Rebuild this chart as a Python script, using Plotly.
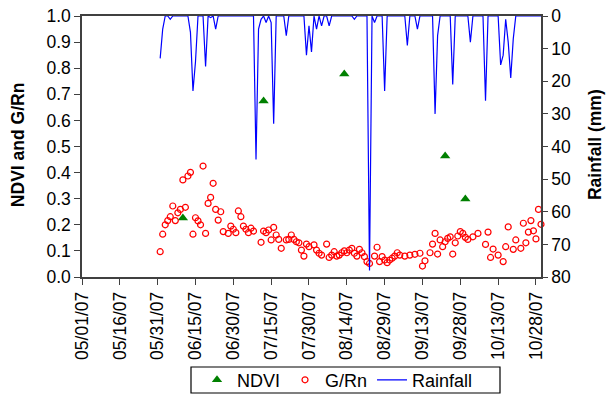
import pandas as pd
import plotly.graph_objects as go

# NDVI composites
ndvi_dates = ["2007-06-10", "2007-07-12", "2007-08-13", "2007-09-22", "2007-09-30"]
ndvi_values = [0.226, 0.674, 0.778, 0.464, 0.299]

# Daily soil heat flux / net radiation ratio
grn_dates = [
    "2007-06-01", "2007-06-02", "2007-06-03", "2007-06-04", "2007-06-05", "2007-06-06",
    "2007-06-07", "2007-06-08", "2007-06-09", "2007-06-10", "2007-06-11", "2007-06-12",
    "2007-06-13", "2007-06-14", "2007-06-15", "2007-06-16", "2007-06-17", "2007-06-18",
    "2007-06-19", "2007-06-20", "2007-06-21", "2007-06-22", "2007-06-23", "2007-06-24",
    "2007-06-25", "2007-06-26", "2007-06-28", "2007-06-29", "2007-06-30",
    "2007-07-01", "2007-07-02", "2007-07-03", "2007-07-04", "2007-07-05", "2007-07-06",
    "2007-07-07", "2007-07-08", "2007-07-11", "2007-07-12", "2007-07-13", "2007-07-14",
    "2007-07-15", "2007-07-16", "2007-07-17", "2007-07-18", "2007-07-19", "2007-07-21",
    "2007-07-22", "2007-07-23", "2007-07-24", "2007-07-25", "2007-07-26", "2007-07-27",
    "2007-07-28", "2007-07-29", "2007-07-30",
    "2007-08-01", "2007-08-02", "2007-08-03", "2007-08-04", "2007-08-06", "2007-08-07",
    "2007-08-08", "2007-08-09", "2007-08-10", "2007-08-11", "2007-08-12", "2007-08-13",
    "2007-08-14", "2007-08-15", "2007-08-16", "2007-08-17", "2007-08-18", "2007-08-19",
    "2007-08-20", "2007-08-21", "2007-08-22", "2007-08-23", "2007-08-25", "2007-08-26",
    "2007-08-27", "2007-08-28", "2007-08-29", "2007-08-30", "2007-08-31",
    "2007-09-01", "2007-09-02", "2007-09-03", "2007-09-04", "2007-09-06", "2007-09-08",
    "2007-09-10", "2007-09-12", "2007-09-13", "2007-09-14", "2007-09-16", "2007-09-17",
    "2007-09-18", "2007-09-19", "2007-09-20", "2007-09-21", "2007-09-22", "2007-09-23",
    "2007-09-24", "2007-09-25", "2007-09-26", "2007-09-27", "2007-09-28", "2007-09-29",
    "2007-09-30",
    "2007-10-01", "2007-10-03", "2007-10-05", "2007-10-08", "2007-10-09", "2007-10-10",
    "2007-10-11", "2007-10-13", "2007-10-15", "2007-10-16", "2007-10-17", "2007-10-19",
    "2007-10-20", "2007-10-22", "2007-10-23", "2007-10-24", "2007-10-25", "2007-10-26",
    "2007-10-27", "2007-10-28", "2007-10-29", "2007-10-30",
]
grn_values = [
    0.097, 0.164, 0.200, 0.216, 0.231, 0.272,
    0.216, 0.246, 0.259, 0.372, 0.267, 0.387,
    0.401, 0.164, 0.227, 0.215, 0.200, 0.425,
    0.167, 0.282, 0.305, 0.359, 0.259, 0.218,
    0.250, 0.174, 0.167, 0.195, 0.183,
    0.170, 0.253, 0.231, 0.195, 0.183, 0.170,
    0.187, 0.176, 0.133, 0.176, 0.170, 0.180,
    0.142, 0.190, 0.161, 0.144, 0.110, 0.142,
    0.144, 0.161, 0.144, 0.135, 0.131, 0.103,
    0.080, 0.126, 0.116,
    0.123, 0.103, 0.091, 0.084, 0.126, 0.075,
    0.084, 0.097, 0.080, 0.084, 0.093, 0.100,
    0.093, 0.103, 0.110, 0.091, 0.080, 0.106,
    0.093, 0.078, 0.059, 0.052, 0.080, 0.114,
    0.059, 0.078, 0.065, 0.055, 0.065,
    0.072, 0.080, 0.093, 0.084, 0.080, 0.084,
    0.087, 0.091, 0.042, 0.062, 0.093, 0.126,
    0.167, 0.088, 0.142, 0.116, 0.135, 0.148,
    0.154, 0.088, 0.131, 0.157, 0.174, 0.167,
    0.152,
    0.144, 0.154, 0.167, 0.125, 0.172, 0.075,
    0.107, 0.084, 0.059, 0.116, 0.192, 0.106,
    0.142, 0.110, 0.206, 0.131, 0.172, 0.216,
    0.177, 0.146, 0.259, 0.202,
]

# Daily rainfall (mm), 1 June - 30 October 2007
rain_start = "2007-06-01"
rainfall_mm = [
    13, 4, 0, 0, 1, 0, 0, 0, 0, 0,        # Jun 1-10
    0, 0, 5, 23, 14, 0, 0, 0, 15.5, 0,    # Jun 11-20
    0.5, 0, 4, 0, 0, 0, 0, 0, 0, 0,       # Jun 21-30
    0, 0, 0, 0, 0, 0, 0, 0, 44, 4,        # Jul 1-10
    1, 0, 2, 0, 2, 33, 0, 0, 0, 0,        # Jul 11-20
    6, 0, 0, 0, 0, 0, 0, 0, 12, 3,        # Jul 21-30
    11, 0, 4, 0, 3, 0, 0, 3, 0, 0,        # Jul 31-Aug 9
    0, 0, 0, 0, 0, 0, 0, 1, 0, 0,         # Aug 10-19
    0, 0, 0, 78, 0, 2, 0, 0, 0, 23,       # Aug 20-29
    0, 0, 0, 0, 0, 0, 0, 0, 9, 0,         # Aug 30-Sep 8
    0, 0, 4, 0, 0, 0, 0, 0, 0, 30,        # Sep 9-18
    6, 0, 0, 0, 0, 0, 21, 0, 0, 0,        # Sep 19-28
    0, 0, 0, 8, 0, 0, 0, 0, 0, 26,        # Sep 29-Oct 8
    0, 0, 0, 0, 0, 15, 12, 1, 8, 19,      # Oct 9-18
    7, 0, 0, 0, 0, 0, 0, 0, 0, 0,         # Oct 19-28
    0, 0,                                 # Oct 29-30
]
rain_dates = pd.date_range(rain_start, periods=len(rainfall_mm), freq="D")

FONT = "Liberation Sans, Arial, sans-serif"
AXIS_COLOR = "#404040"
TICK_SIZE = 17.5

fig = go.Figure()

fig.add_trace(go.Scatter(
    x=ndvi_dates, y=ndvi_values, name="NDVI", mode="markers",
    marker=dict(symbol="triangle-up", size=9, color="#008000"),
    cliponaxis=False,
))
fig.add_trace(go.Scatter(
    x=grn_dates, y=grn_values, name="G/Rn", mode="markers",
    marker=dict(symbol="circle-open", size=6, color="#FF0000",
                line=dict(width=1.2, color="#FF0000")),
    cliponaxis=False,
))
fig.add_trace(go.Scatter(
    x=rain_dates, y=rainfall_mm, name="Rainfall", mode="lines",
    line=dict(color="#0000FF", width=1.2),
    yaxis="y2", cliponaxis=False,
))

fig.update_layout(
    width=606, height=396,
    margin=dict(l=82, r=65, t=16, b=119, autoexpand=False),
    paper_bgcolor="white", plot_bgcolor="white",
    font=dict(family=FONT, size=TICK_SIZE, color="#000000"),
    showlegend=True,
    legend=dict(
        orientation="h", x=(197 - 82) / 459, xanchor="left",
        y=-0.395, yanchor="middle",
        borderwidth=0, font=dict(size=18),
        bgcolor="rgba(0,0,0,0)",
    ),
    xaxis=dict(
        type="date", range=["2007-05-01", "2007-10-30"],
        tick0="2007-05-01", dtick=15 * 86400000, tickformat="%m/%d/%y",
        tickangle=-90, ticks="outside", ticklen=6, tickcolor=AXIS_COLOR,
        showline=True, linecolor=AXIS_COLOR, linewidth=1.5, mirror=True,
        showgrid=False, zeroline=False, tickfont=dict(size=TICK_SIZE),
    ),
    yaxis=dict(
        range=[0, 1], dtick=0.1, tickformat=".1f",
        ticks="outside", ticklen=6, tickcolor=AXIS_COLOR,
        showline=True, linecolor=AXIS_COLOR, linewidth=1.5,
        showgrid=False, zeroline=False, tickfont=dict(size=TICK_SIZE),
    ),
    yaxis2=dict(
        overlaying="y", side="right", range=[80, 0], dtick=10,
        ticks="outside", ticklen=5, tickcolor=AXIS_COLOR,
        showline=True, linecolor=AXIS_COLOR, linewidth=1.5,
        showgrid=False, zeroline=False, tickfont=dict(size=TICK_SIZE),
    ),
    shapes=[
        # frame around the legend entries
        dict(type="rect", xref="paper", yref="paper",
             x0=(191 - 82) / 459, x1=(500 - 82) / 459,
             y0=(277 - 367) / 261, y1=(277 - 393) / 261,
             line=dict(color="#000000", width=1.2), fillcolor="rgba(0,0,0,0)"),
    ],
    annotations=[
        dict(text="<b>NDVI and G/Rn</b>", xref="paper", yref="paper",
             x=-0.139, y=0.506, textangle=-90, showarrow=False,
             xanchor="center", yanchor="middle", font=dict(size=17.5)),
        dict(text="<b>Rainfall (mm)</b>", xref="paper", yref="paper",
             x=1.118, y=0.506, textangle=-90, showarrow=False,
             xanchor="center", yanchor="middle", font=dict(size=17.5)),
    ],
)

fig.write_html("out.html")
